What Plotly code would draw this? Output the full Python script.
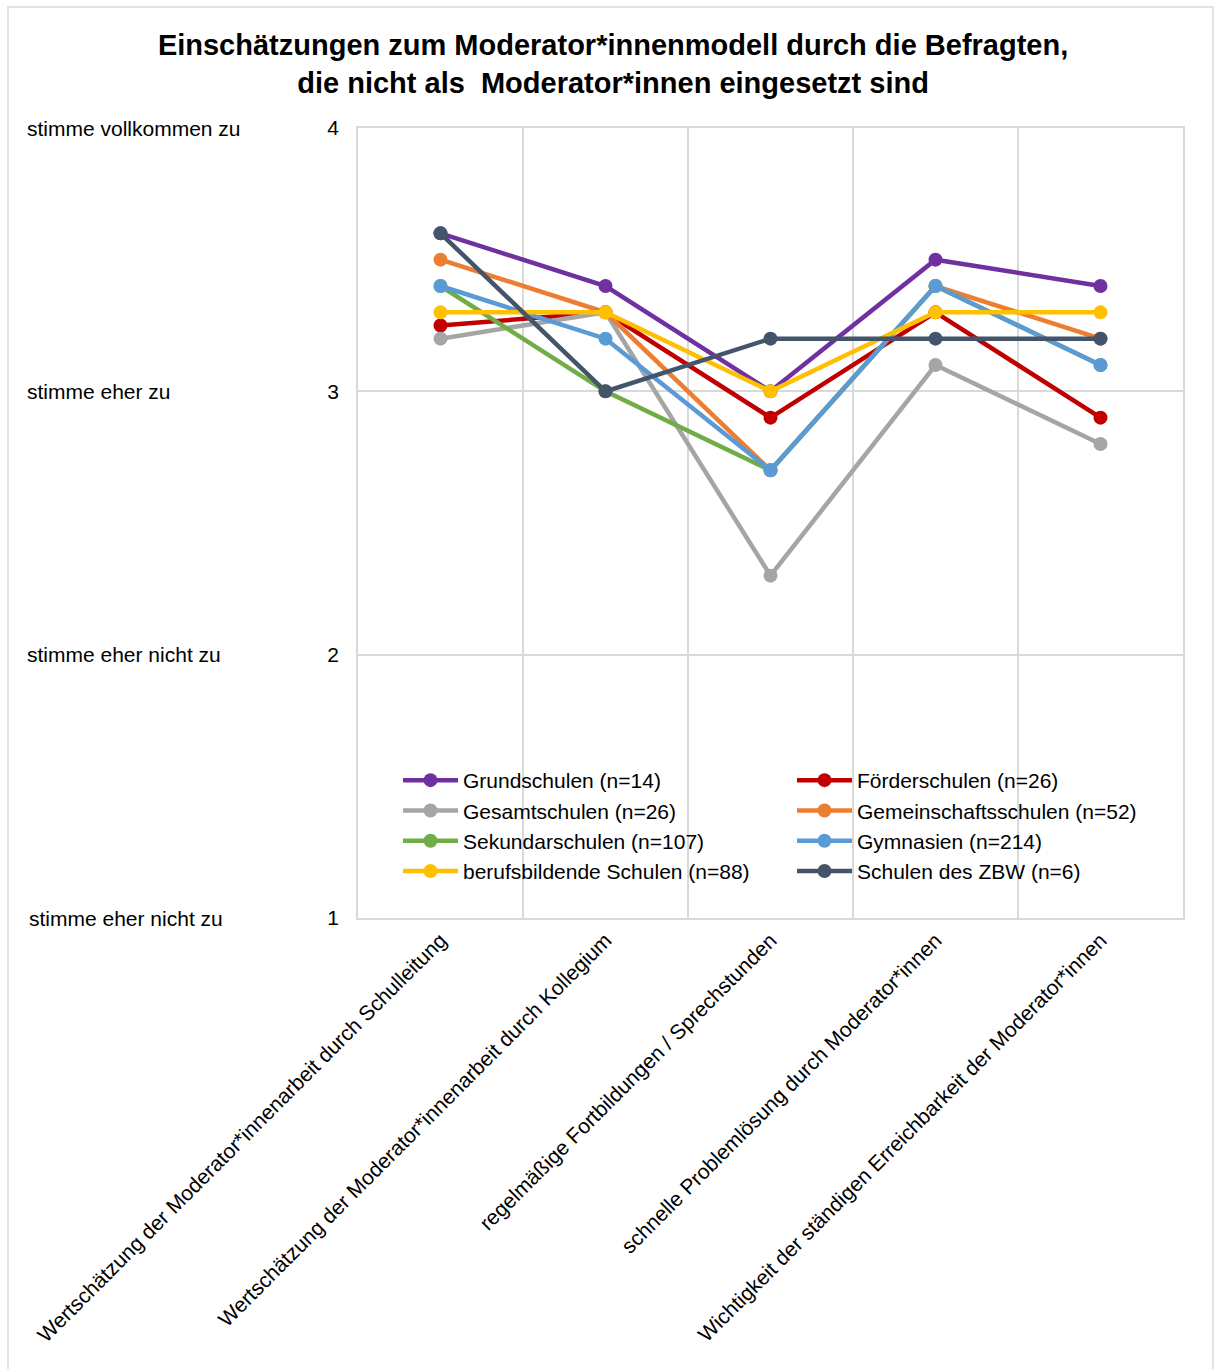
import plotly.graph_objects as go

categories = [
    "Wertschätzung der Moderator*innenarbeit durch Schulleitung",
    "Wertschätzung der Moderator*innenarbeit durch Kollegium",
    "regelmäßige Fortbildungen / Sprechstunden",
    "schnelle Problemlösung durch Moderator*innen",
    "Wichtigkeit der ständigen Erreichbarkeit der Moderator*innen",
]

grundschulen = [3.6, 3.4, 3.0, 3.5, 3.4]
foerderschulen = [3.25, 3.3, 2.9, 3.3, 2.9]
gesamtschulen = [3.2, 3.3, 2.3, 3.1, 2.8]
gemeinschaftsschulen = [3.5, 3.3, 2.7, 3.4, 3.2]
sekundarschulen = [3.4, 3.0, 2.7, 3.4, 3.1]
gymnasien = [3.4, 3.2, 2.7, 3.4, 3.1]
berufsbildende = [3.3, 3.3, 3.0, 3.3, 3.3]
zbw = [3.6, 3.0, 3.2, 3.2, 3.2]

series_names = [
    "Grundschulen (n=14)", "Förderschulen (n=26)", "Gesamtschulen (n=26)",
    "Gemeinschaftsschulen (n=52)", "Sekundarschulen (n=107)", "Gymnasien (n=214)",
    "berufsbildende Schulen (n=88)", "Schulen des ZBW (n=6)",
]
series_values = [grundschulen, foerderschulen, gesamtschulen, gemeinschaftsschulen,
                 sekundarschulen, gymnasien, berufsbildende, zbw]
series_colors = ["#7030A0", "#C00000", "#A5A5A5", "#ED7D31",
                 "#70AD47", "#5B9BD5", "#FFC000", "#44546A"]

y_tickvals = [1, 2, 3, 4]
y_text_labels = ["stimme eher nicht zu", "stimme eher nicht zu", "stimme eher zu", "stimme vollkommen zu"]

FONT = "Liberation Sans, Arial, sans-serif"
FS = 21

fig = go.Figure()
for name, vals, col in zip(series_names, series_values, series_colors):
    fig.add_trace(go.Scatter(
        x=categories, y=vals, name=name, mode="lines+markers",
        line=dict(color=col, width=4.5),
        marker=dict(color=col, size=14),
    ))

W, H = 1214, 1369
L, R, T, B = 358, 31, 128, 451
pw, ph = W - L - R, H - T - B

def px(xp):
    return (xp - L) / pw

def py(yp):
    return (H - B - yp) / ph

annotations = []
for v, t in zip(y_tickvals, y_text_labels):
    annotations.append(dict(
        x=px(25 if v != 1 else 27), xref="paper", y=v, yref="y", text=t,
        showarrow=False, xanchor="left", yanchor="middle",
        font=dict(family=FONT, size=FS, color="#000000"),
    ))

fig.update_layout(
    width=W, height=H,
    margin=dict(l=L, r=R, t=T, b=B, autoexpand=False),
    paper_bgcolor="white", plot_bgcolor="white",
    title=dict(
        text="Einschätzungen zum Moderator*innenmodell durch die Befragten,<br>die nicht als  Moderator*innen eingesetzt sind",
        x=0.505, xanchor="center", y=1 - 55 / H, yanchor="middle",
        font=dict(family=FONT, size=29, color="#000000", weight="bold"),
    ),
    font=dict(family=FONT, size=FS, color="#000000"),
    xaxis=dict(
        type="category", tickson="boundaries", tickangle=-45,
        showgrid=True, gridcolor="#D9D9D9", gridwidth=1.5,
        showline=True, linecolor="#D9D9D9", linewidth=1.5, mirror=True,
        ticks="", tickfont=dict(family=FONT, size=FS, color="#000000"),
        range=[-0.5, 4.5],
    ),
    yaxis=dict(
        range=[1, 4], tickvals=y_tickvals, ticktext=[str(v) for v in y_tickvals],
        showgrid=True, gridcolor="#D9D9D9", gridwidth=1.5,
        showline=True, linecolor="#D9D9D9", linewidth=1.5, mirror=True,
        zeroline=False, ticks="", ticklabelstandoff=13,
        tickfont=dict(family=FONT, size=FS, color="#000000"),
    ),
    showlegend=True,
    legend=dict(
        orientation="h", x=px(398), xanchor="left", y=py(760), yanchor="top",
        entrywidth=324, entrywidthmode="pixels",
        bgcolor="rgba(0,0,0,0)", font=dict(family=FONT, size=FS, color="#000000"),
        itemwidth=55, tracegroupgap=0,
    ),
    annotations=annotations,
    shapes=[dict(
        type="rect", xref="paper", yref="paper",
        x0=px(8), x1=px(1213), y0=py(1375), y1=py(7),
        line=dict(color="#D9D9D9", width=1.5), fillcolor="rgba(0,0,0,0)", layer="below",
    )],
)

fig.write_html("out.html")
